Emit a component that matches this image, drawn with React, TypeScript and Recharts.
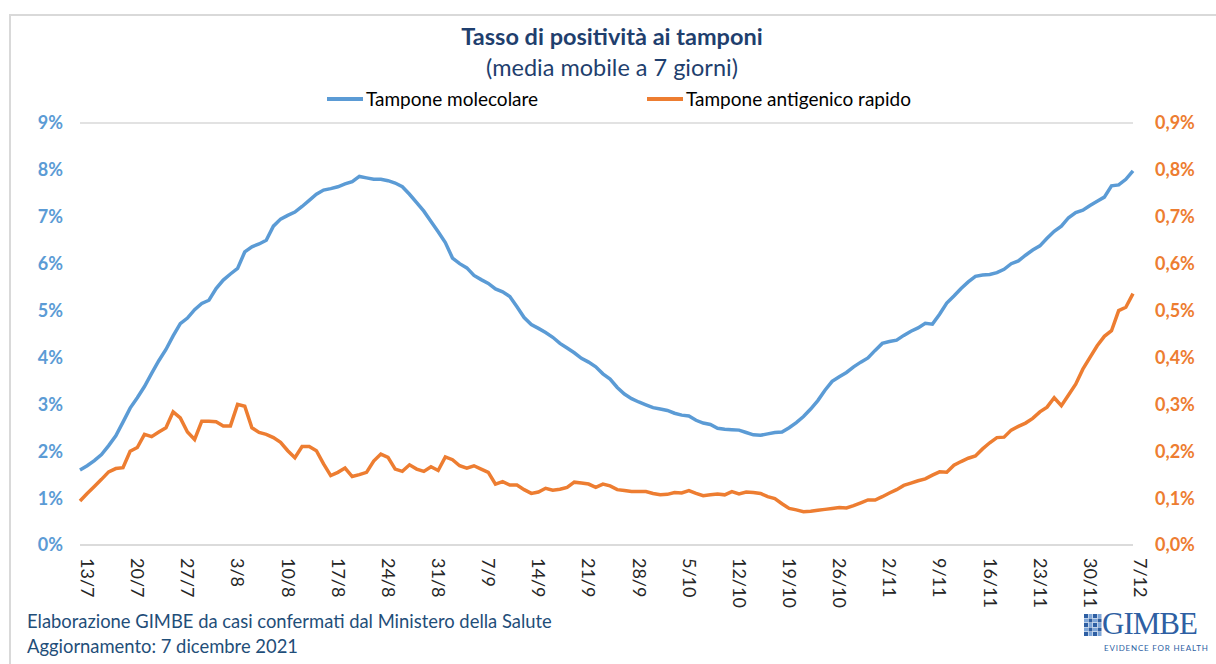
import { CartesianGrid, Line, LineChart, XAxis, YAxis } from 'recharts';

// tasso di positività, media mobile 7 gg (%), dal 13/7 al 7/12/2021
const molecolare = [
  1.6, 1.69, 1.8, 1.93, 2.12, 2.33, 2.62, 2.92, 3.14, 3.38,
  3.66, 3.93, 4.17, 4.46, 4.72, 4.84, 5.02, 5.15, 5.22, 5.47,
  5.65, 5.78, 5.9, 6.25, 6.36, 6.42, 6.5, 6.8, 6.95, 7.03,
  7.1, 7.22, 7.35, 7.48, 7.57, 7.6, 7.64, 7.7, 7.75, 7.86,
  7.83, 7.8, 7.8, 7.77, 7.72, 7.64, 7.48, 7.3, 7.12, 6.9,
  6.68, 6.45, 6.12, 6.0, 5.91, 5.75, 5.66, 5.58, 5.46, 5.4,
  5.3, 5.08, 4.85, 4.7, 4.62, 4.53, 4.43, 4.3, 4.2, 4.1,
  3.98, 3.9, 3.8, 3.65, 3.54, 3.36, 3.22, 3.12, 3.05, 2.99,
  2.93, 2.9, 2.87, 2.81, 2.77, 2.75, 2.66, 2.6, 2.57, 2.49,
  2.47, 2.46, 2.45, 2.4, 2.35, 2.34, 2.37, 2.4, 2.41, 2.5,
  2.61, 2.74, 2.9, 3.08, 3.3, 3.49, 3.59, 3.68, 3.8, 3.9,
  3.99, 4.15, 4.3, 4.34, 4.37, 4.47, 4.56, 4.63, 4.73, 4.71,
  4.92, 5.16, 5.31, 5.47, 5.61, 5.73, 5.76, 5.77, 5.81, 5.88,
  6.0, 6.06, 6.18, 6.29, 6.38, 6.54, 6.69, 6.8, 6.98, 7.09,
  7.14, 7.24, 7.33, 7.42, 7.66, 7.68, 7.8, 7.98,
];

const antigenico = [
  0.094, 0.11, 0.125, 0.14, 0.156, 0.163, 0.165, 0.2, 0.208, 0.236,
  0.231, 0.241, 0.25, 0.284, 0.271, 0.241, 0.225, 0.264, 0.264, 0.263,
  0.254, 0.254, 0.3, 0.296, 0.25, 0.24, 0.236, 0.229, 0.219, 0.201,
  0.186, 0.21, 0.21, 0.201, 0.173, 0.148, 0.155, 0.164, 0.146, 0.15,
  0.155, 0.179, 0.194, 0.187, 0.162, 0.157, 0.171, 0.162, 0.157, 0.167,
  0.159, 0.188, 0.182, 0.169, 0.164, 0.169, 0.162, 0.155, 0.13, 0.135,
  0.128, 0.128, 0.118, 0.11, 0.113, 0.121, 0.117, 0.119, 0.123, 0.134,
  0.132, 0.13, 0.123, 0.13, 0.126, 0.118, 0.116, 0.114, 0.114, 0.114,
  0.11, 0.107, 0.108, 0.112, 0.111, 0.116, 0.11, 0.105, 0.107, 0.109,
  0.107, 0.114, 0.109, 0.113, 0.112, 0.11, 0.103, 0.099, 0.088, 0.078,
  0.075, 0.071, 0.072, 0.074, 0.076, 0.078, 0.08, 0.079, 0.084, 0.09,
  0.096, 0.096, 0.103, 0.111, 0.118, 0.127, 0.132, 0.137, 0.141, 0.149,
  0.156, 0.155, 0.17, 0.178, 0.185, 0.19, 0.205, 0.218, 0.229, 0.23,
  0.245, 0.253, 0.26, 0.27, 0.284, 0.294, 0.314, 0.297, 0.32, 0.343,
  0.375, 0.4, 0.425, 0.445, 0.457, 0.5, 0.507, 0.536,
];

const leftTicks = [0, 1, 2, 3, 4, 5, 6, 7, 8, 9];
const rightTicks = [0, 0.1, 0.2, 0.3, 0.4, 0.5, 0.6, 0.7, 0.8, 0.9];

const BLUE = '#5b9bd5';
const ORANGE = '#ed7d31';
const NAVY = '#1f3f6e';
const FONT = 'Lato, "Open Sans", sans-serif';

// etichette giornaliere g/m
const giorni = molecolare.map((_, i) => {
  const d = new Date(2021, 6, 13 + i);
  return `${d.getDate()}/${d.getMonth() + 1}`;
});

const data = giorni.map((g, i) => ({
  giorno: g,
  mol: molecolare[i],
  ant: antigenico[i],
}));

function DateTick({ x, y, payload }: any) {
  return (
    <text
      x={x + 5}
      y={y - 1}
      transform={`rotate(90, ${x}, ${y})`}
      fill="#262626"
      fontSize={18}
      fontFamily={FONT}
      textAnchor="start"
    >
      {payload.value}
    </text>
  );
}

function LegendItem({ color, label, left }: { color: string; label: string; left: number }) {
  return (
    <span style={{ position: 'absolute', left, top: 0, display: 'inline-flex', alignItems: 'center', whiteSpace: 'nowrap' }}>
      <span style={{ width: 36, height: 4, background: color, marginRight: 3 }} />
      <span>{label}</span>
    </span>
  );
}

export default function App() {
  return (
    <div
      style={{
        position: 'fixed',
        left: 0,
        top: 0,
        width: 1216,
        height: 664,
        background: '#fff',
        overflow: 'hidden',
        fontFamily: FONT,
      }}
    >
      <div
        style={{
          position: 'absolute',
          left: 9,
          top: 14,
          width: 1240,
          height: 700,
          borderLeft: '2px solid #d9d9d9',
          borderTop: '2px solid #d9d9d9',
        }}
      />
      <div style={{ position: 'absolute', top: 21, width: 1216, textAlign: 'center', color: NAVY }}>
        <div style={{ fontSize: 23.5, fontWeight: 700, lineHeight: '31px', marginLeft: 8 }}>
          Tasso di positività ai tamponi
        </div>
        <div style={{ fontSize: 23.5, lineHeight: '30px', marginLeft: 8 }}>(media mobile a 7 giorni)</div>
      </div>
      <div style={{ position: 'absolute', top: 87, left: 0, fontSize: 19, color: '#000' }}>
        <LegendItem color={BLUE} label="Tampone molecolare" left={327} />
        <LegendItem color={ORANGE} label="Tampone antigenico rapido" left={647} />
      </div>

      <div style={{ position: 'absolute', left: 0, top: 0 }}>
        <LineChart width={1216} height={664} data={data} margin={{ top: 123, right: 23, bottom: 59, left: 20 }}>
          <CartesianGrid vertical={false} stroke="#d9d9d9" strokeWidth={1.5} />
          <XAxis
            dataKey="giorno"
            interval={6}
            height={60}
            tickLine={false}
            axisLine={{ stroke: '#d9d9d9', strokeWidth: 1.5 }}
            tick={<DateTick />}
          />
          <YAxis
            yAxisId="left"
            domain={[0, 9]}
            ticks={leftTicks}
            width={60}
            tickLine={false}
            axisLine={false}
            tickMargin={11}
            tickFormatter={(v) => `${v}%`}
            tick={{ fill: BLUE, fontSize: 18, fontWeight: 700, fontFamily: FONT }}
          />
          <YAxis
            yAxisId="right"
            orientation="right"
            domain={[0, 0.9]}
            ticks={rightTicks}
            width={60}
            tickLine={false}
            axisLine={false}
            tickMargin={16}
            tickFormatter={(v) => `${v.toFixed(1).replace('.', ',')}%`}
            tick={{ fill: ORANGE, fontSize: 18, fontWeight: 700, fontFamily: FONT }}
          />
          <Line
            yAxisId="left"
            type="linear"
            dataKey="mol"
            stroke={BLUE}
            strokeWidth={3.5}
            dot={false}
            isAnimationActive={false}
          />
          <Line
            yAxisId="right"
            type="linear"
            dataKey="ant"
            stroke={ORANGE}
            strokeWidth={3.5}
            dot={false}
            isAnimationActive={false}
          />
        </LineChart>
      </div>

      <div style={{ position: 'absolute', left: 27, top: 609, fontSize: 18.4, color: '#1f4e79', lineHeight: '25px' }}>
        <div>Elaborazione GIMBE da casi confermati dal Ministero della Salute</div>
        <div>Aggiornamento: 7 dicembre 2021</div>
      </div>

      <div style={{ position: 'absolute', left: 1084, top: 610 }}>
        <svg width={20} height={26} style={{ position: 'absolute', left: 0, top: 4 }}>
          {[0, 1, 2, 3, 4].map((r) =>
            [0, 1, 2, 3].map((c) => (
              <rect
                key={`${r}-${c}`}
                x={c * 4.5}
                y={r * 4.5}
                width={4}
                height={4}
                fill={(r + c) % 2 === 0 ? '#2e5fa3' : '#7ea6d8'}
              />
            ))
          )}
        </svg>
        <div
          style={{
            position: 'absolute',
            left: 18,
            top: -2,
            fontFamily: '"Liberation Serif", serif',
            fontSize: 31,
            color: '#2e5fa3',
            letterSpacing: -1,
            lineHeight: '32px',
          }}
        >
          GIMBE
        </div>
        <div
          style={{
            position: 'absolute',
            left: 20,
            top: 33,
            fontSize: 8,
            color: '#2e5fa3',
            letterSpacing: 0.8,
            whiteSpace: 'nowrap',
          }}
        >
          EVIDENCE FOR HEALTH
        </div>
      </div>
    </div>
  );
}
